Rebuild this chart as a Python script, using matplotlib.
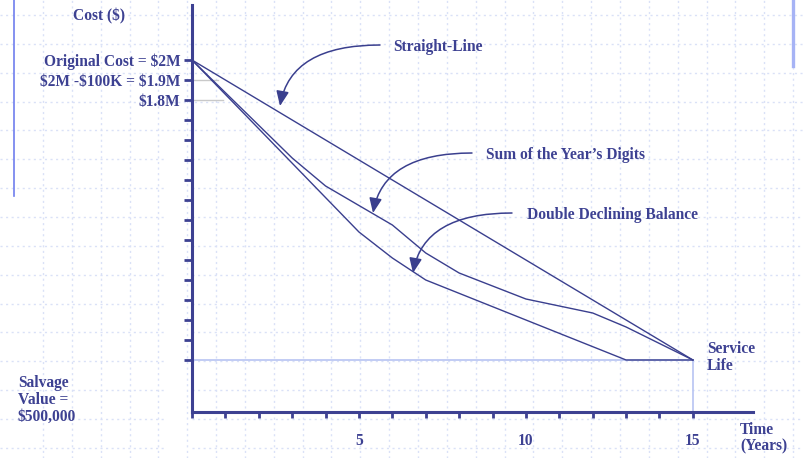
import numpy as np
import matplotlib
matplotlib.use("Agg")
import matplotlib.pyplot as plt
from matplotlib.lines import Line2D

plt.rcParams['text.parse_math'] = False
plt.rcParams['font.family'] = ['Liberation Serif', 'DejaVu Serif']

# ---------------- data ----------------
years_sl = [0, 15]
cost_sl = [2.0, 0.5]
years_syd = [0, 3, 4, 6, 7, 8, 10, 12, 13, 15]
cost_syd = [2.0, 1.51, 1.37, 1.175, 1.035, 0.935, 0.805, 0.735, 0.665, 0.5]
years_ddb = [0, 5, 6, 7, 13, 15]
cost_ddb = [2.0, 1.14, 1.01, 0.90, 0.5, 0.5]
salvage_value = 0.5
service_life = 15
guide_levels = [1.9, 1.8]
guide_ends = [0.78, 0.93]
y_ticks = [round(v, 1) for v in np.arange(0.5, 2.01, 0.1)]
y_tick_text = {2.0: 'Original Cost = $2M', 1.9: '$2M -$100K = $1.9M', 1.8: '$1.8M'}
x_ticks = list(range(0, 16))
x_tick_text = {5: '5', 10: '10', 15: '15'}

W, H = 804, 458
NAVY = '#3D4192'
LINE = '#3A3F8E'
GRID = '#DAE1F7'
FS = 11.2

fig = plt.figure(figsize=(W / 100, H / 100), dpi=100)
fig.patch.set_facecolor('white')

def fx(xp):
    return xp / W

def fy(yp):
    return 1 - yp / H

# background dotted grid (slide decoration)
for k in range(0, 30):
    xp = 43 + 28.85 * k
    if xp < W:
        fig.add_artist(Line2D([fx(xp)] * 2, [0, 1], transform=fig.transFigure,
                              color=GRID, lw=1.0, ls=(0, (1.5, 2.5)), zorder=0))
for k in range(0, 17):
    yp = 15 + 28.85 * k
    if yp < H:
        if yp > 140:
            fig.add_artist(Line2D([0, fx(165)], [fy(yp)] * 2, transform=fig.transFigure,
                                  color=GRID, lw=1.0, ls=(0, (1.5, 2.5)), zorder=0))
            fig.add_artist(Line2D([fx(192), 1], [fy(yp)] * 2, transform=fig.transFigure,
                                  color=GRID, lw=1.0, ls=(0, (1.5, 2.5)), zorder=0))
        else:
            fig.add_artist(Line2D([0, 1], [fy(yp)] * 2, transform=fig.transFigure,
                                  color=GRID, lw=1.0, ls=(0, (1.5, 2.5)), zorder=0))

# slide accent bars
fig.add_artist(Line2D([fx(14)] * 2, [fy(0), fy(196)], transform=fig.transFigure,
                      color='#6F7EEE', lw=1.2, zorder=1))
fig.add_artist(Line2D([fx(793)] * 2, [fy(0), fy(66)], transform=fig.transFigure,
                      color='#A6B3F5', lw=2.4, zorder=1))

# ---------------- axes ----------------
ax = fig.add_axes([fx(192), fy(412), (753 - 192) / W, (412 - 5) / H])
ax.set_facecolor('none')
ax.set_xlim(0, 16.8)
ax.set_ylim(0.24, 2.275)
for s in ['top', 'right']:
    ax.spines[s].set_visible(False)
for s in ['left', 'bottom']:
    ax.spines[s].set_color(NAVY)
    ax.spines[s].set_linewidth(2.2)
    ax.spines[s].set_zorder(5)

ax.set_yticks(y_ticks)
ax.set_yticklabels([y_tick_text.get(v, '') for v in y_ticks])
ax.set_xticks(x_ticks)
ax.set_xticklabels([x_tick_text.get(v, '') for v in x_ticks])
ax.tick_params(axis='y', direction='out', length=5.5, width=2.0, color=NAVY,
               pad=3, labelsize=FS, labelcolor=NAVY)
ax.tick_params(axis='x', direction='out', length=4, width=2.0, color=NAVY,
               pad=11, labelsize=FS, labelcolor=NAVY)
for lab in ax.get_xticklabels() + ax.get_yticklabels():
    lab.set_fontweight('bold')

# guide lines
for lvl, end in zip(guide_levels, guide_ends):
    ax.plot([0, end], [lvl, lvl], color='#C9C9C9', lw=1.0, zorder=2)
ax.plot([0, service_life], [salvage_value, salvage_value], color='#B7C4F2', lw=1.2, zorder=2)
ax.plot([service_life, service_life], [0.24, salvage_value], color='#B7C4F2', lw=1.2, zorder=2)

# depreciation curves
ax.plot(years_sl, cost_sl, color=LINE, lw=1.0, zorder=3)
ax.plot(years_syd, cost_syd, color=LINE, lw=1.0, zorder=3)
ax.plot(years_ddb, cost_ddb, color=LINE, lw=1.0, zorder=3)

# ---------------- annotations ----------------
txt = dict(color=NAVY, fontsize=FS, fontweight='bold')
fig.text(fx(99), fy(16), 'Cost ($)', ha='center', va='center', **txt)
fig.text(fx(18), fy(400), 'Salvage\nValue =\n$500,000', ha='left', va='center',
         linespacing=1.05, **txt)
fig.text(fx(707), fy(357.5), 'Service\nLife', ha='left', va='center', linespacing=1.05, **txt)
fig.text(fx(740), fy(438.5), 'Time\n(Years)', ha='left', va='center', linespacing=1.05, **txt)

labels = [('Straight-Line', 393, 47, (380, 45), (280, 106)),
          ('Sum of the Year\u2019s Digits', 486, 155, (472, 153), (373, 213)),
          ('Double Declining Balance', 527, 215, (512, 213), (413, 273))]
for text, tx, ty, start, tip in labels:
    fig.text(fx(tx), fy(ty), text, ha='left', va='center', **txt)
    ax.annotate('', xy=(fx(tip[0]), fy(tip[1])), xycoords='figure fraction',
                xytext=(fx(start[0]), fy(start[1])), textcoords='figure fraction',
                arrowprops=dict(arrowstyle='-|>,head_length=0.75,head_width=0.32',
                                connectionstyle='angle3,angleA=0,angleB=80',
                                color=LINE, lw=1.1, shrinkA=0, shrinkB=0,
                                mutation_scale=12))

fig.savefig('out.png', dpi=100)
